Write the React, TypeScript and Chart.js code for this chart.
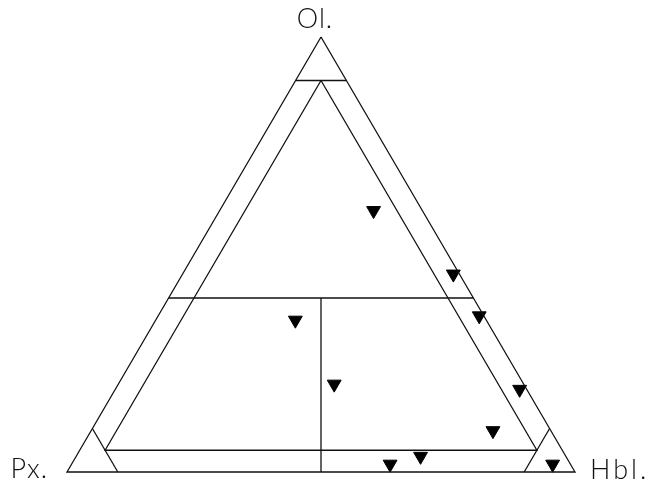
import React, { useEffect, useRef } from "react";
import { Chart, registerables } from "chart.js";

Chart.register(...registerables);

// Sample compositions (modal %): Ol, Px, Hbl
const samplesOl = [60.1, 45.5, 35.9, 34.9, 20.2, 19.0, 9.5, 3.6, 1.8, 1.8];
const samplesPx = [9.6, 1.2, 0.9, 37.6, 37.3, 1.4, 11.4, 28.6, 35.5, 3.5];
const samplesHbl = [30.3, 53.3, 63.2, 27.5, 42.5, 79.6, 79.1, 67.8, 62.7, 94.7];

// Apex labels
const apexLabels = ["Ol.", "Px.", "Hbl."];

// Classification field boundaries, as polylines of [Ol, Px, Hbl]
const outerTriangle = [[100, 0, 0], [0, 100, 0], [0, 0, 100], [100, 0, 0]];
const olCorner = [[90, 10, 0], [90, 0, 10]];
const pxCorner = [[10, 90, 0], [0, 90, 10]];
const hblCorner = [[10, 0, 90], [0, 10, 90]];
const innerTriangle = [[90, 5, 5], [5, 90, 5], [5, 5, 90], [90, 5, 5]];
const ol40Line = [[40, 60, 0], [40, 0, 60]];
const pxHblDivide = [[40, 30, 30], [0, 50, 50]];

const boundaries = [outerTriangle, olCorner, pxCorner, hblCorner, innerTriangle, ol40Line, pxHblDivide];

const toXY = (ol: number, px: number, hbl: number) => {
  const s = ol + px + hbl;
  const o = (ol / s) * 100;
  const h = (hbl / s) * 100;
  return { x: h + o / 2, y: o };
};

export default function App() {
  const ref = useRef<HTMLCanvasElement | null>(null);

  useEffect(() => {
    if (!ref.current) return;
    const lineDatasets = boundaries.map((poly) => ({
      type: "scatter" as const,
      data: poly.map((p) => toXY(p[0], p[1], p[2])),
      showLine: true,
      borderColor: "#111",
      borderWidth: 1.3,
      pointRadius: 0,
      fill: false,
      tension: 0,
      clip: false as any,
    }));
    const points = samplesOl.map((o, i) => toXY(o, samplesPx[i], samplesHbl[i]));
    const labelPlugin = {
      id: "apexLabels",
      afterDraw(chart: any) {
        const { ctx, scales } = chart;
        const xs = scales.x;
        const ys = scales.y;
        const olV = toXY(100, 0, 0);
        const pxV = toXY(0, 100, 0);
        const hbV = toXY(0, 0, 100);
        ctx.save();
        ctx.fillStyle = "#111";
        ctx.font = "300 27px Lato, 'Open Sans', sans-serif";
        ctx.textBaseline = "alphabetic";
        ctx.textAlign = "center";
        (ctx as any).letterSpacing = "1px";
        ctx.fillText(apexLabels[0], xs.getPixelForValue(olV.x) - 6, ys.getPixelForValue(olV.y) - 9);
        ctx.textAlign = "right";
        ctx.fillText(apexLabels[1], xs.getPixelForValue(pxV.x) - 19, ys.getPixelForValue(pxV.y) + 6);
        ctx.textAlign = "left";
        (ctx as any).letterSpacing = "3px";
        ctx.fillText(apexLabels[2], xs.getPixelForValue(hbV.x) + 15, ys.getPixelForValue(hbV.y) + 7);
        ctx.restore();
      },
    };
    const chart = new Chart(ref.current, {
      type: "scatter",
      data: {
        datasets: [
          ...lineDatasets,
          {
            type: "scatter" as const,
            data: points,
            pointStyle: "triangle",
            rotation: 180,
            pointRadius: 8,
            backgroundColor: "#000",
            borderColor: "#000",
            borderWidth: 1,
            showLine: false,
            clip: false as any,
          },
        ] as any,
      },
      options: {
        responsive: false,
        animation: false,
        events: [],
        layout: { padding: { left: 67, right: 81, top: 37, bottom: 17 } },
        plugins: { legend: { display: false }, tooltip: { enabled: false } },
        scales: {
          x: { type: "linear", min: 0, max: 100, display: false },
          y: { type: "linear", min: 0, max: 100, display: false },
        },
      },
      plugins: [labelPlugin],
    });
    return () => chart.destroy();
  }, []);

  return (
    <div style={{ position: "fixed", left: 0, top: 0, width: 656, height: 489, background: "#fff" }}>
      <canvas ref={ref} width={656} height={489} style={{ display: "block" }} />
    </div>
  );
}
